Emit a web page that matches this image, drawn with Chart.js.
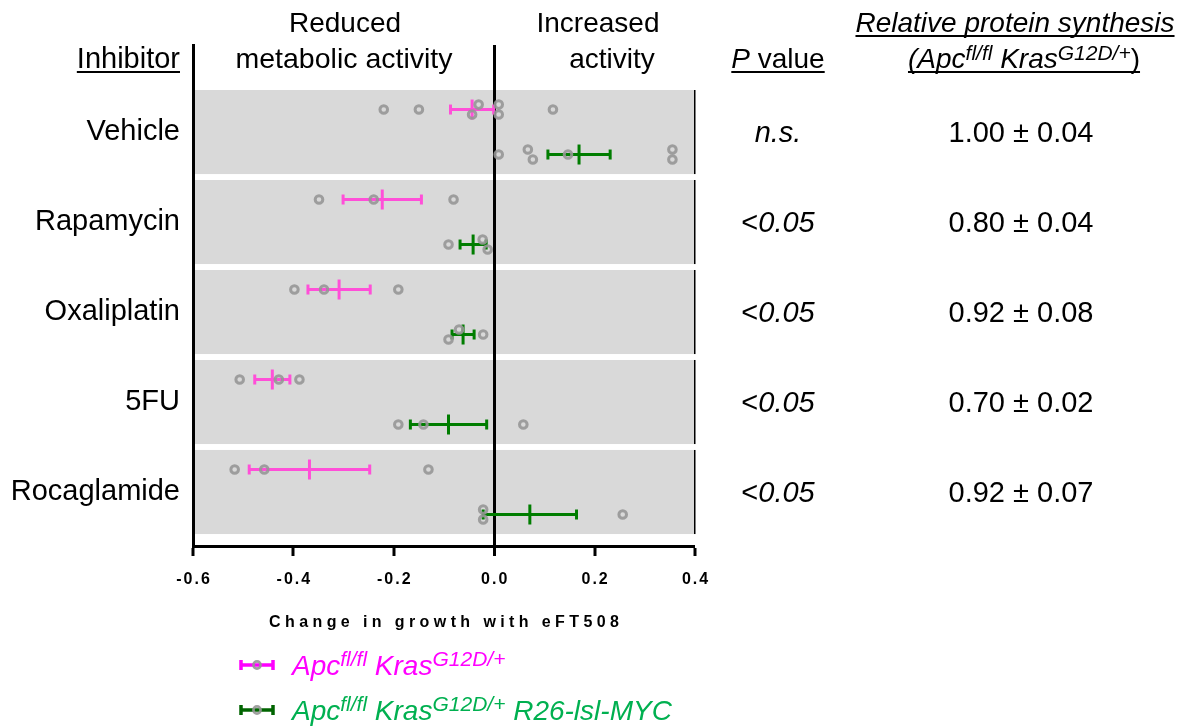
<!DOCTYPE html>
<html>
<head>
<meta charset="utf-8">
<script src="https://cdn.jsdelivr.net/npm/chart.js@4.4.1/dist/chart.umd.min.js"></script>
<style>
  html, body { margin: 0; padding: 0; background: #fff; }
  canvas { display: block; }
</style>
</head>
<body>
<canvas id="chart" width="1203" height="728"></canvas>
<script>
// ---- data -------------------------------------------------------------
const inhibitors = ['Vehicle', 'Rapamycin', 'Oxaliplatin', '5FU', 'Rocaglamide'];
const xTicks = [-0.6, -0.4, -0.2, 0.0, 0.2, 0.4];

// Apc fl/fl Kras G12D/+ : change in growth with eFT508 (replicates, mean, SEM)
const kpPoints = [
  [-0.220, -0.150, -0.031, -0.044, 0.009, 0.009, 0.117],
  [-0.349, -0.240, -0.081],
  [-0.398, -0.339, -0.191],
  [-0.507, -0.429, -0.388],
  [-0.517, -0.458, -0.131]
];
const kpMean = [-0.044, -0.223, -0.309, -0.442, -0.368];
const kpSem  = [0.043, 0.078, 0.062, 0.035, 0.120];

// Apc fl/fl Kras G12D/+ R26-lsl-MYC
const mycPoints = [
  [0.009, 0.067, 0.077, 0.147, 0.355, 0.355],
  [-0.091, -0.023, -0.013],
  [-0.070, -0.091, -0.022],
  [-0.191, -0.141, 0.058],
  [-0.022, -0.022, 0.256]
];
const mycMean = [0.169, -0.042, -0.062, -0.091, 0.071];
const mycSem  = [0.062, 0.026, 0.022, 0.076, 0.093];

const pValues = ['n.s.', '<0.05', '<0.05', '<0.05', '<0.05'];
const proteinSynthesis = ['1.00 ± 0.04', '0.80 ± 0.04', '0.92 ± 0.08', '0.70 ± 0.02', '0.92 ± 0.07'];

// ---- styling ----------------------------------------------------------
const FAMILY = '"Liberation Sans", Arial, Helvetica, sans-serif';
const MAGENTA = '#ff4fd8';
const GREEN = '#007d00';
const POINT_GREY = 'rgba(150,150,150,0.9)';
const BAND_GREY = '#d9d9d9';
const KP_ROW = -0.25, MYC_ROW = 0.25;   // sub-row offsets inside each inhibitor band
const JITTER = 0.055;                  // vertical spread for overlapping replicates
const BAND_HALF = 0.467;

function fontStr(size, italic, bold) {
  return (italic ? 'italic ' : '') + (bold ? 'bold ' : '') + size + 'px ' + FAMILY;
}

// nearly coincident replicates are spread above / below the sub-row
function jitter(vals) {
  const off = vals.map(() => null);
  for (let i = 0; i < vals.length; i++) {
    if (off[i] !== null) continue;
    off[i] = 0;
    for (let j = i + 1; j < vals.length; j++) {
      if (off[j] === null && Math.abs(vals[i] - vals[j]) < 0.025) {
        off[i] = -JITTER; off[j] = JITTER; break;
      }
    }
  }
  return off;
}
function pointData(groups, row) {
  return groups.flatMap((vals, i) => {
    const off = jitter(vals);
    return vals.map((v, k) => ({ x: v, y: i + row + off[k] }));
  });
}
function barData(means, sems, row) {
  return means.flatMap((m, i) => [
    { x: m - sems[i], y: i + row },
    { x: m + sems[i], y: i + row },
    { x: m, y: null }
  ]);
}
function meanData(means, row) {
  return means.map((m, i) => ({ x: m, y: i + row }));
}

function pointsSet(data) {
  return {
    type: 'scatter', data, order: 0,
    pointStyle: 'circle', pointRadius: 3.8, pointBorderWidth: 3,
    borderColor: POINT_GREY, backgroundColor: 'rgba(0,0,0,0)'
  };
}
function meanSet(data, color) {
  return {
    type: 'scatter', data, order: 1,
    pointStyle: 'line', rotation: 90, pointRadius: 10, pointBorderWidth: 3,
    borderColor: color, backgroundColor: color
  };
}
function barSet(data, color) {
  return {
    type: 'line', data, order: 2, showLine: true, spanGaps: false, tension: 0,
    borderColor: color, borderWidth: 3, borderCapStyle: 'butt', fill: false,
    pointStyle: 'line', pointRotation: 90, pointRadius: 5, pointBorderWidth: 3,
    pointBorderColor: color, pointBackgroundColor: color
  };
}

// ---- rich text helper (italics, superscripts, underline) --------------
function drawRich(ctx, segs, x, baseline, opts) {
  const size = opts.size || 28;
  const supSize = opts.supSize || 21;
  const rise = opts.rise || 9;
  ctx.save();
  ctx.textAlign = 'left';
  ctx.textBaseline = 'alphabetic';
  let w = 0;
  const widths = segs.map(s => {
    ctx.font = fontStr(s.sup ? supSize : size, s.it, false);
    const m = ctx.measureText(s.t).width;
    w += m;
    return m;
  });
  let cx = opts.align === 'center' ? x - w / 2 : (opts.align === 'right' ? x - w : x);
  const start = cx;
  segs.forEach((s, k) => {
    ctx.font = fontStr(s.sup ? supSize : size, s.it, false);
    ctx.fillStyle = s.color || opts.color || '#000';
    ctx.fillText(s.t, cx, s.sup ? baseline - rise : baseline);
    cx += widths[k];
  });
  if (opts.underline) {
    ctx.fillStyle = opts.color || '#000';
    ctx.fillRect(start, baseline + 3, w, 2);
  }
  ctx.restore();
}

// grey bands behind each inhibitor, plus spaced-out x axis lettering
const bandsPlugin = {
  id: 'bands',
  beforeDraw(chart) {
    const { ctx, scales: { x, y } } = chart;
    ctx.save();
    inhibitors.forEach((_, i) => {
      const top = y.getPixelForValue(i - BAND_HALF);
      const bot = y.getPixelForValue(i + BAND_HALF);
      ctx.fillStyle = BAND_GREY;
      ctx.fillRect(x.left, top, x.right - x.left, bot - top);
      ctx.fillStyle = '#000';
      ctx.fillRect(x.right - 1, top, 1.5, bot - top);
    });
    ctx.restore();

    if (!x.__spaced) {
      const dl = x.drawLabels, dt = x.drawTitle;
      x.drawLabels = function (a) {
        this.ctx.save(); this.ctx.letterSpacing = '2px'; this.ctx.translate(1, 0);
        dl.call(this, a); this.ctx.restore();
      };
      x.drawTitle = function () {
        this.ctx.save(); this.ctx.letterSpacing = '4.4px'; this.ctx.translate(2.2, 0);
        dt.call(this); this.ctx.restore();
      };
      x.__spaced = true;
    }
  },
  afterDraw(chart) {
    const { ctx, scales: { y } } = chart;
    const it = true;

    // column headers
    drawRich(ctx, [{ t: 'Inhibitor' }], 180, 68, { align: 'right', underline: true, size: 29 });
    drawRich(ctx, [{ t: 'Reduced' }], 345, 32, { align: 'center' });
    drawRich(ctx, [{ t: 'metabolic activity' }], 344, 68, { align: 'center', size: 28.5 });
    drawRich(ctx, [{ t: 'Increased' }], 598, 32, { align: 'center' });
    drawRich(ctx, [{ t: 'activity' }], 612, 68, { align: 'center' });
    drawRich(ctx, [{ t: 'P', it }, { t: ' value' }], 778, 68, { align: 'center', underline: true });
    drawRich(ctx, [{ t: 'Relative protein synthesis', it }], 1015, 32, { align: 'center', underline: true });
    drawRich(ctx, [
      { t: '(Apc', it }, { t: 'fl/fl', it, sup: true }, { t: ' Kras', it },
      { t: 'G12D/+', it, sup: true }, { t: ')' }
    ], 1024, 68, { align: 'center', underline: true, rise: 8 });

    // per-inhibitor statistics
    inhibitors.forEach((_, i) => {
      const base = y.getPixelForValue(i) + 10;
      const p = pValues[i];
      const segs = p.startsWith('<') ? [{ t: '<' }, { t: p.slice(1), it }] : [{ t: p, it }];
      drawRich(ctx, segs, 778, base, { align: 'center', size: 29 });
      drawRich(ctx, [{ t: proteinSynthesis[i] }], 1021, base, { align: 'center', size: 29 });
    });

    // legend
    const legendRows = [
      { y: 665, bar: '#ff00ff', text: '#ff00ff',
        segs: [{ t: 'Apc', it }, { t: 'fl/fl', it, sup: true }, { t: ' Kras', it }, { t: 'G12D/+', it, sup: true }] },
      { y: 710, bar: '#006400', text: '#00b050',
        segs: [{ t: 'Apc', it }, { t: 'fl/fl', it, sup: true }, { t: ' Kras', it }, { t: 'G12D/+', it, sup: true }, { t: ' R26-lsl-MYC', it }] }
    ];
    legendRows.forEach(r => {
      ctx.save();
      ctx.strokeStyle = r.bar; ctx.lineWidth = 3.5; ctx.lineCap = 'butt';
      ctx.beginPath();
      ctx.moveTo(241, r.y); ctx.lineTo(273, r.y);
      ctx.moveTo(241, r.y - 5); ctx.lineTo(241, r.y + 5);
      ctx.moveTo(273, r.y - 5); ctx.lineTo(273, r.y + 5);
      ctx.stroke();
      ctx.strokeStyle = POINT_GREY; ctx.lineWidth = 2.6;
      ctx.beginPath(); ctx.arc(257, r.y, 3.6, 0, Math.PI * 2); ctx.stroke();
      ctx.restore();
      drawRich(ctx, r.segs, 292, r.y + 10, { align: 'left', color: r.text });
    });
  }
};

new Chart(document.getElementById('chart'), {
  type: 'scatter',
  data: {
    datasets: [
      pointsSet(pointData(kpPoints, KP_ROW)),
      pointsSet(pointData(mycPoints, MYC_ROW)),
      meanSet(meanData(kpMean, KP_ROW), MAGENTA),
      meanSet(meanData(mycMean, MYC_ROW), GREEN),
      barSet(barData(kpMean, kpSem, KP_ROW), MAGENTA),
      barSet(barData(mycMean, mycSem, MYC_ROW), GREEN)
    ]
  },
  options: {
    responsive: false,
    devicePixelRatio: 1,
    animation: false,
    events: [],
    layout: { padding: { left: 0, right: 508, top: 45, bottom: 96 } },
    plugins: { legend: { display: false }, tooltip: { enabled: false } },
    scales: {
      x: {
        type: 'linear', position: 'bottom', min: -0.6, max: 0.4,
        afterBuildTicks: s => { s.ticks = xTicks.map(v => ({ value: v })); },
        afterFit: s => { s.height = 86; },
        border: { display: true, color: '#000', width: 3 },
        grid: {
          drawOnChartArea: true, drawTicks: true, tickLength: 10,
          color: '#000', tickColor: '#000', tickWidth: 3,
          lineWidth: c => (c.tick && Math.abs(c.tick.value) < 1e-9 ? 3 : 0)
        },
        ticks: {
          color: '#000', padding: 14, maxRotation: 0, autoSkip: false,
          font: { family: FAMILY, size: 16, weight: 'bold' },
          callback: v => Number(v).toFixed(1)
        },
        title: {
          display: true, text: 'Change in growth with eFT508', color: '#000',
          font: { family: FAMILY, size: 16, weight: 'bold' },
          padding: { top: 24, bottom: 0 }
        }
      },
      y: {
        type: 'linear', position: 'left', reverse: true, min: -0.967, max: 4.6,
        afterBuildTicks: s => { s.ticks = inhibitors.map((_, i) => ({ value: i })); },
        afterFit: s => { s.width = 193; },
        border: { display: true, color: '#000', width: 3 },
        grid: { display: false, drawTicks: false },
        ticks: {
          color: '#000', padding: 13, autoSkip: false,
          font: { family: FAMILY, size: 29 },
          callback: v => inhibitors[v]
        }
      }
    }
  },
  plugins: [bandsPlugin]
});
</script>
</body>
</html>
